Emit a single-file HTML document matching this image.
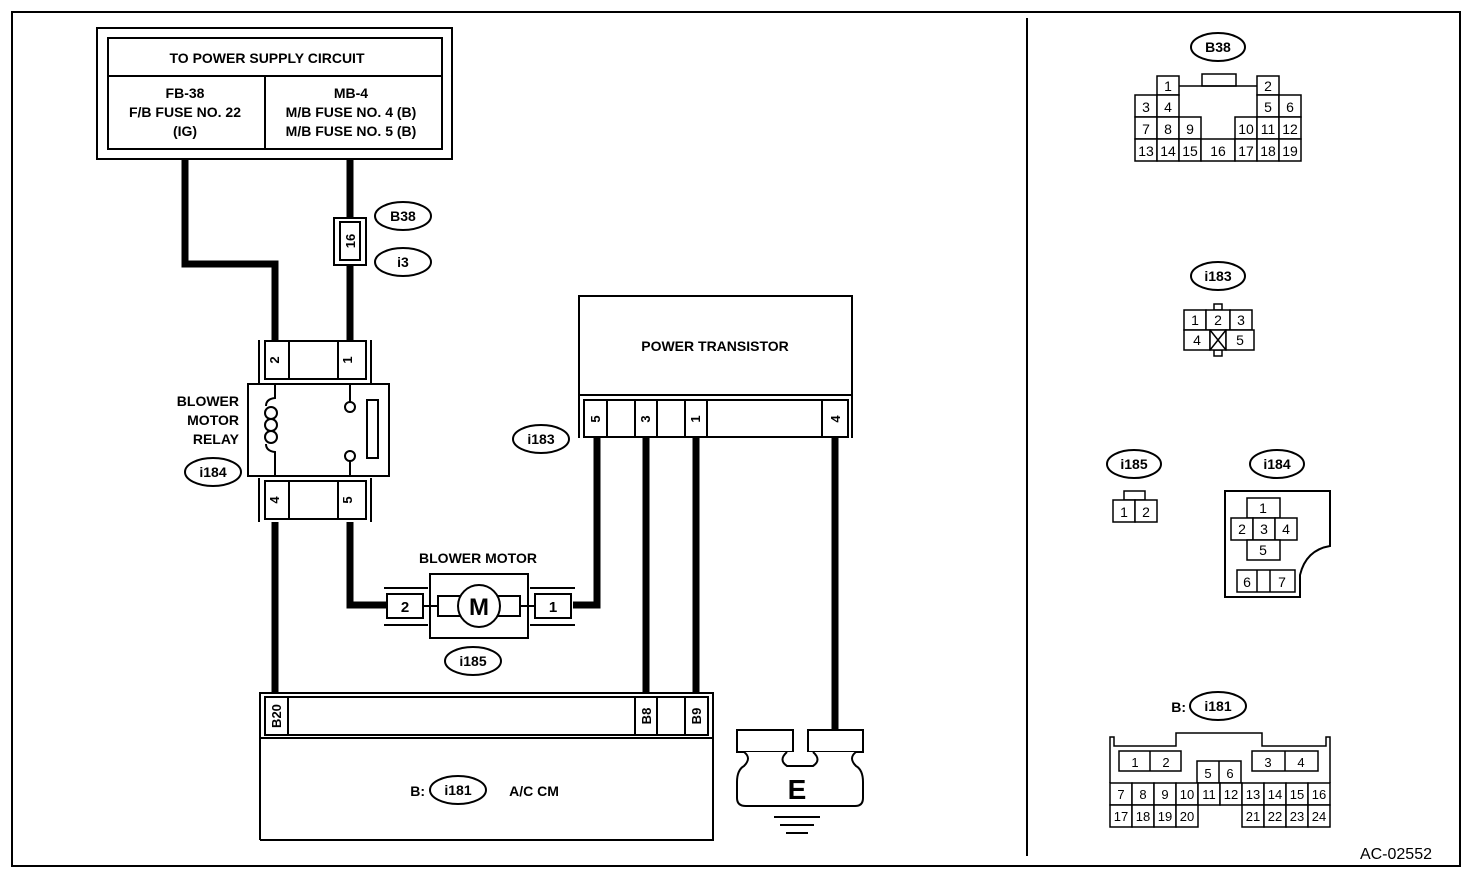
<!DOCTYPE html>
<html><head><meta charset="utf-8"><style>
html,body{margin:0;padding:0;background:#fff}
svg{display:block}
text{font-family:"Liberation Sans",Arial,sans-serif;font-weight:bold;fill:#000}
.n{font-weight:normal}
</style></head><body>
<svg width="1472" height="878" viewBox="0 0 1472 878" xmlns="http://www.w3.org/2000/svg">
<g fill="none" stroke="#000" stroke-width="2">
<rect x="12" y="12" width="1448" height="854"/>
<line x1="1027" y1="18" x2="1027" y2="856"/>
<rect x="97" y="28" width="355" height="131"/>
<rect x="108" y="38" width="334" height="111"/>
<line x1="108" y1="76" x2="442" y2="76"/>
<line x1="265" y1="76" x2="265" y2="149"/>
</g>
<g font-size="14" text-anchor="middle">
<text x="267" y="63">TO POWER SUPPLY CIRCUIT</text>
<text x="185" y="98">FB-38</text>
<text x="185" y="117">F/B FUSE NO. 22</text>
<text x="185" y="136">(IG)</text>
<text x="351" y="98">MB-4</text>
<text x="351" y="117">M/B FUSE NO. 4 (B)</text>
<text x="351" y="136">M/B FUSE NO. 5 (B)</text>
</g>
<g fill="none" stroke="#000" stroke-width="7">
<polyline points="185,159 185,264 275,264 275,340"/>
<line x1="350" y1="159" x2="350" y2="340"/>
<line x1="275" y1="522" x2="275" y2="696"/>
<polyline points="350,522 350,605 386,605"/>
<polyline points="573,605 597,605 597,438"/>
<line x1="646" y1="438" x2="646" y2="696"/>
<line x1="696" y1="438" x2="696" y2="696"/>
<line x1="835" y1="438" x2="835" y2="730"/>
</g>
<g stroke="#000" stroke-width="2">
<rect x="334" y="218" width="32" height="47" fill="#fff"/>
<rect x="340" y="222" width="20" height="38" fill="#fff"/>
<ellipse cx="403" cy="216" rx="28" ry="14" fill="#fff"/>
<ellipse cx="403" cy="262" rx="28" ry="14" fill="#fff"/>
</g>
<text x="355" y="241" font-size="13" text-anchor="middle" transform="rotate(-90 355 241)">16</text>
<text x="403" y="221" font-size="14" text-anchor="middle">B38</text>
<text x="403" y="267" font-size="14" text-anchor="middle">i3</text>
<g fill="#fff" stroke="#000" stroke-width="2">
<polyline points="259,340 259,383" fill="none"/><polyline points="371,340 371,383" fill="none"/>
<rect x="265" y="341" width="101" height="38"/>
<line x1="289" y1="341" x2="289" y2="379"/><line x1="338" y1="341" x2="338" y2="379"/>
<rect x="248" y="384" width="141" height="92"/>
<polyline points="259,478 259,522" fill="none"/><polyline points="371,478 371,522" fill="none"/>
<rect x="265" y="481" width="101" height="38"/>
<line x1="289" y1="481" x2="289" y2="519"/><line x1="338" y1="481" x2="338" y2="519"/>
<rect x="367" y="400" width="11" height="58"/>
<circle cx="350" cy="407" r="5"/><circle cx="350" cy="456" r="5"/>
</g>
<g fill="none" stroke="#000" stroke-width="2">
<line x1="350" y1="384" x2="350" y2="402"/><line x1="350" y1="461" x2="350" y2="476"/>
<path d="M275,384 V398 Q266,399 266,406 M275,476 V452 Q266,451 266,444"/>
<circle cx="271" cy="413" r="6"/><circle cx="271" cy="425" r="6"/><circle cx="271" cy="437" r="6"/>
</g>
<g font-size="13" text-anchor="middle">
<text x="279" y="360" transform="rotate(-90 279 360)">2</text>
<text x="352" y="360" transform="rotate(-90 352 360)">1</text>
<text x="279" y="500" transform="rotate(-90 279 500)">4</text>
<text x="352" y="500" transform="rotate(-90 352 500)">5</text>
</g>
<g font-size="14" text-anchor="end">
<text x="239" y="406">BLOWER</text><text x="239" y="425">MOTOR</text><text x="239" y="444">RELAY</text>
</g>
<ellipse cx="213" cy="472" rx="28" ry="14" fill="#fff" stroke="#000" stroke-width="2"/>
<text x="213" y="477" font-size="14" text-anchor="middle">i184</text>
<text x="478" y="563" font-size="14" text-anchor="middle">BLOWER MOTOR</text>
<g fill="#fff" stroke="#000" stroke-width="2">
<rect x="430" y="574" width="98" height="64"/>
<rect x="438" y="596" width="82" height="20"/>
<circle cx="479" cy="606" r="21"/>
<line x1="384" y1="588" x2="428" y2="588"/><line x1="384" y1="625" x2="428" y2="625"/>
<rect x="387" y="594" width="36" height="24"/>
<line x1="530" y1="588" x2="575" y2="588"/><line x1="530" y1="625" x2="575" y2="625"/>
<rect x="535" y="594" width="36" height="24"/>
<line x1="423" y1="606" x2="438" y2="606"/><line x1="520" y1="606" x2="535" y2="606"/>
<ellipse cx="473" cy="661" rx="28" ry="14"/>
</g>
<text x="479" y="615" font-size="24" text-anchor="middle">M</text>
<text x="405" y="612" font-size="15" text-anchor="middle">2</text>
<text x="553" y="612" font-size="15" text-anchor="middle">1</text>
<text x="473" y="666" font-size="14" text-anchor="middle">i185</text>
<g fill="#fff" stroke="#000" stroke-width="2">
<polyline points="579,438 579,296 852,296 852,438"/>
<line x1="579" y1="395" x2="852" y2="395"/>
<rect x="584" y="400" width="264" height="37"/>
<line x1="607" y1="400" x2="607" y2="437"/><line x1="635" y1="400" x2="635" y2="437"/>
<line x1="657" y1="400" x2="657" y2="437"/><line x1="685" y1="400" x2="685" y2="437"/>
<line x1="707" y1="400" x2="707" y2="437"/><line x1="822" y1="400" x2="822" y2="437"/>
<ellipse cx="541" cy="439" rx="28" ry="14"/>
</g>
<text x="715" y="351" font-size="14" text-anchor="middle">POWER TRANSISTOR</text>
<g font-size="13" text-anchor="middle">
<text x="600" y="419" transform="rotate(-90 600 419)">5</text>
<text x="650" y="419" transform="rotate(-90 650 419)">3</text>
<text x="700" y="419" transform="rotate(-90 700 419)">1</text>
<text x="840" y="419" transform="rotate(-90 840 419)">4</text>
</g>
<text x="541" y="444" font-size="14" text-anchor="middle">i183</text>
<g fill="#fff" stroke="#000" stroke-width="2">
<polyline points="260,840 260,693 713,693 713,840 260,840"/>
<rect x="265" y="697" width="443" height="38"/>
<line x1="260" y1="738" x2="713" y2="738"/>
<line x1="288" y1="697" x2="288" y2="735"/><line x1="635" y1="697" x2="635" y2="735"/>
<line x1="657" y1="697" x2="657" y2="735"/><line x1="685" y1="697" x2="685" y2="735"/>
<ellipse cx="458" cy="790" rx="28" ry="14"/>
</g>
<g font-size="13" text-anchor="middle">
<text x="281" y="716" transform="rotate(-90 281 716)">B20</text>
<text x="651" y="716" transform="rotate(-90 651 716)">B8</text>
<text x="701" y="716" transform="rotate(-90 701 716)">B9</text>
</g>
<text x="425" y="796" font-size="14" text-anchor="end">B:</text>
<text x="458" y="795" font-size="14" text-anchor="middle">i181</text>
<text x="534" y="796" font-size="14" text-anchor="middle">A/C CM</text>
<g fill="#fff" stroke="#000" stroke-width="2">
<rect x="737" y="730" width="56" height="22"/>
<rect x="808" y="730" width="55" height="22"/>
<path d="M744,752 Q752,758 744,766 Q737,770 737,782 V798 Q737,806 746,806 H855 Q863,806 863,798 V782 Q863,770 856,766 Q848,758 856,752"/>
<path d="M787,752 Q778,760 787,766 H813 Q822,760 813,752" fill="none"/>
</g>
<text x="797" y="799" font-size="28" text-anchor="middle">E</text>
<g stroke="#000" stroke-width="2">
<line x1="774" y1="817" x2="820" y2="817"/><line x1="780" y1="825" x2="814" y2="825"/><line x1="786" y1="833" x2="808" y2="833"/>
</g>
<g fill="#fff" stroke="#000" stroke-width="1.5">
<ellipse cx="1218" cy="47" rx="27" ry="14" stroke-width="2"/>
<rect x="1157" y="76" width="22" height="19"/>
<rect x="1257" y="76" width="22" height="19"/>
<rect x="1202" y="74" width="34" height="12"/>
<polyline points="1179,86 1257,86" fill="none"/>
<rect x="1135" y="95" width="22" height="22"/><rect x="1157" y="95" width="22" height="22"/>
<rect x="1257" y="95" width="22" height="22"/><rect x="1279" y="95" width="22" height="22"/>
<rect x="1135" y="117" width="22" height="22"/><rect x="1157" y="117" width="22" height="22"/><rect x="1179" y="117" width="22" height="22"/>
<rect x="1235" y="117" width="22" height="22"/><rect x="1257" y="117" width="22" height="22"/><rect x="1279" y="117" width="22" height="22"/>
<rect x="1135" y="139" width="22" height="22"/><rect x="1157" y="139" width="22" height="22"/><rect x="1179" y="139" width="22" height="22"/>
<rect x="1201" y="139" width="34" height="22"/>
<rect x="1235" y="139" width="22" height="22"/><rect x="1257" y="139" width="22" height="22"/><rect x="1279" y="139" width="22" height="22"/>
</g>
<text x="1218" y="52" font-size="14" text-anchor="middle">B38</text>
<g font-size="14" text-anchor="middle">
<text class="n" x="1168" y="91">1</text><text class="n" x="1268" y="91">2</text>
<text class="n" x="1146" y="112">3</text><text class="n" x="1168" y="112">4</text><text class="n" x="1268" y="112">5</text><text class="n" x="1290" y="112">6</text>
<text class="n" x="1146" y="134">7</text><text class="n" x="1168" y="134">8</text><text class="n" x="1190" y="134">9</text>
<text class="n" x="1246" y="134">10</text><text class="n" x="1268" y="134">11</text><text class="n" x="1290" y="134">12</text>
<text class="n" x="1146" y="156">13</text><text class="n" x="1168" y="156">14</text><text class="n" x="1190" y="156">15</text><text class="n" x="1218" y="156">16</text>
<text class="n" x="1246" y="156">17</text><text class="n" x="1268" y="156">18</text><text class="n" x="1290" y="156">19</text>
</g>
<g fill="#fff" stroke="#000" stroke-width="1.5">
<ellipse cx="1218" cy="276" rx="27" ry="14" stroke-width="2"/>
<rect x="1214" y="304" width="8" height="6"/><rect x="1214" y="350" width="8" height="6"/>
<rect x="1184" y="310" width="22" height="20"/><rect x="1206" y="310" width="24" height="20"/><rect x="1230" y="310" width="22" height="20"/>
<rect x="1184" y="330" width="26" height="20"/><rect x="1210" y="330" width="16" height="20"/><rect x="1226" y="330" width="28" height="20"/>
<path d="M1210,330 L1226,350 M1226,330 L1210,350" fill="none"/>
</g>
<text x="1218" y="281" font-size="14" text-anchor="middle">i183</text>
<g font-size="14" text-anchor="middle">
<text class="n" x="1195" y="325">1</text><text class="n" x="1218" y="325">2</text><text class="n" x="1241" y="325">3</text>
<text class="n" x="1197" y="345">4</text><text class="n" x="1240" y="345">5</text>
</g>
<g fill="#fff" stroke="#000" stroke-width="1.5">
<ellipse cx="1134" cy="464" rx="27" ry="14" stroke-width="2"/>
<rect x="1124" y="491" width="21" height="9"/>
<rect x="1113" y="500" width="22" height="22"/><rect x="1135" y="500" width="22" height="22"/>
</g>
<text x="1134" y="469" font-size="14" text-anchor="middle">i185</text>
<text class="n" x="1124" y="517" font-size="14" text-anchor="middle">1</text>
<text class="n" x="1146" y="517" font-size="14" text-anchor="middle">2</text>
<g fill="#fff" stroke="#000" stroke-width="1.5">
<ellipse cx="1277" cy="464" rx="27" ry="14" stroke-width="2"/>
<path d="M1225,491 H1330 V546 Q1306,550 1300,575 V597 H1225 Z" stroke-width="2"/>
<rect x="1247" y="498" width="33" height="20"/>
<rect x="1231" y="518" width="22" height="22"/><rect x="1253" y="518" width="22" height="22"/><rect x="1275" y="518" width="22" height="22"/>
<rect x="1247" y="540" width="33" height="20"/>
<rect x="1237" y="570" width="58" height="22"/>
<line x1="1257" y1="570" x2="1257" y2="592"/><line x1="1270" y1="570" x2="1270" y2="592"/>
</g>
<text x="1277" y="469" font-size="14" text-anchor="middle">i184</text>
<g font-size="14" text-anchor="middle">
<text class="n" x="1263" y="513">1</text>
<text class="n" x="1242" y="534">2</text><text class="n" x="1264" y="534">3</text><text class="n" x="1286" y="534">4</text>
<text class="n" x="1263" y="555">5</text>
<text class="n" x="1247" y="587">6</text><text class="n" x="1282" y="587">7</text>
</g>
<ellipse cx="1218" cy="706" rx="28" ry="14" fill="#fff" stroke="#000" stroke-width="2"/>
<text x="1186" y="712" font-size="14" text-anchor="end">B:</text>
<text x="1218" y="711" font-size="14" text-anchor="middle">i181</text>
<g fill="#fff" stroke="#000" stroke-width="1.5">
<path d="M1110,783 V737 H1114 V746 H1176 V733 H1262 V746 H1326 V737 H1330 V783" fill="none"/>
<rect x="1119" y="751" width="62" height="20"/><line x1="1150" y1="751" x2="1150" y2="771"/>
<rect x="1252" y="751" width="66" height="20"/><line x1="1285" y1="751" x2="1285" y2="771"/>
<rect x="1197" y="761" width="44" height="22"/><line x1="1219" y1="761" x2="1219" y2="783"/>
</g>
<g fill="#fff" stroke="#000" stroke-width="1.5">
<rect x="1110" y="783" width="22" height="22"/><rect x="1132" y="783" width="22" height="22"/><rect x="1154" y="783" width="22" height="22"/><rect x="1176" y="783" width="22" height="22"/>
<rect x="1198" y="783" width="22" height="22"/><rect x="1220" y="783" width="22" height="22"/><rect x="1242" y="783" width="22" height="22"/><rect x="1264" y="783" width="22" height="22"/>
<rect x="1286" y="783" width="22" height="22"/><rect x="1308" y="783" width="22" height="22"/>
<rect x="1110" y="805" width="22" height="22"/><rect x="1132" y="805" width="22" height="22"/><rect x="1154" y="805" width="22" height="22"/><rect x="1176" y="805" width="22" height="22"/>
<rect x="1242" y="805" width="22" height="22"/><rect x="1264" y="805" width="22" height="22"/><rect x="1286" y="805" width="22" height="22"/><rect x="1308" y="805" width="22" height="22"/>
</g>
<g font-size="13" text-anchor="middle">
<text class="n" x="1135" y="767">1</text><text class="n" x="1166" y="767">2</text>
<text class="n" x="1268" y="767">3</text><text class="n" x="1301" y="767">4</text>
<text class="n" x="1208" y="778">5</text><text class="n" x="1230" y="778">6</text>
<text class="n" x="1121" y="799">7</text><text class="n" x="1143" y="799">8</text><text class="n" x="1165" y="799">9</text><text class="n" x="1187" y="799">10</text>
<text class="n" x="1209" y="799">11</text><text class="n" x="1231" y="799">12</text><text class="n" x="1253" y="799">13</text><text class="n" x="1275" y="799">14</text>
<text class="n" x="1297" y="799">15</text><text class="n" x="1319" y="799">16</text>
<text class="n" x="1121" y="821">17</text><text class="n" x="1143" y="821">18</text><text class="n" x="1165" y="821">19</text><text class="n" x="1187" y="821">20</text>
<text class="n" x="1253" y="821">21</text><text class="n" x="1275" y="821">22</text><text class="n" x="1297" y="821">23</text><text class="n" x="1319" y="821">24</text>
</g>
<text class="n" x="1432" y="859" font-size="16" text-anchor="end">AC-02552</text>
</svg>
</body></html>
